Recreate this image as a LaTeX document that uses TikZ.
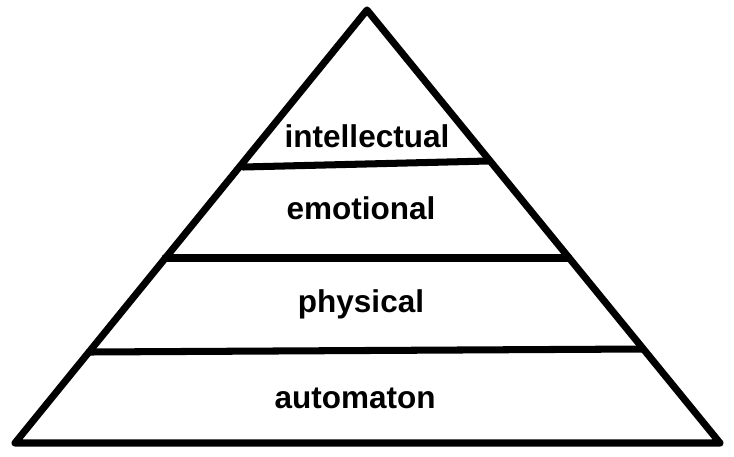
\documentclass[tikz,border=0pt]{standalone}
\usepackage{fontspec}
\setmainfont{Liberation Sans}
\usetikzlibrary{positioning}

\begin{document}
\begin{tikzpicture}[x=0.025cm, y=-0.025cm]
    % Define styles
    \tikzstyle{level} = [anchor=base, inner sep=0pt, font=\fontsize{22.4}{26}\selectfont\bfseries]
    \tikzstyle{edge} = [line width=5pt, line join=round, line cap=round]

    \useasboundingbox (0,0) rectangle (734,456);

    % Corners
    \coordinate (top) at (367,10);
    \coordinate (left) at (15,443);
    \coordinate (right) at (720,443);

    % Split points
    \coordinate (l1) at (243,167);
    \coordinate (r1) at (488,161);
    \coordinate (l2) at (165,258);
    \coordinate (r2) at (569,258);
    \coordinate (l3) at (89,352);
    \coordinate (r3) at (642,349);

    % Pyramid
    \draw [edge] (top) -- (left) -- (right) -- cycle;
    \draw [edge] (l1) -- (r1);
    \draw [edge] (l2) -- (r2);
    \draw [edge] (l3) -- (r3);

    % Nodes
    \node [level] (intellectual) at (367,147) {intellectual};
    \node [level] (emotional) at (361,219) {emotional};
    \node [level] (physical) at (361,312) {physical};
    \node [level] (automaton) at (355,408) {automaton};
\end{tikzpicture}
\end{document}
